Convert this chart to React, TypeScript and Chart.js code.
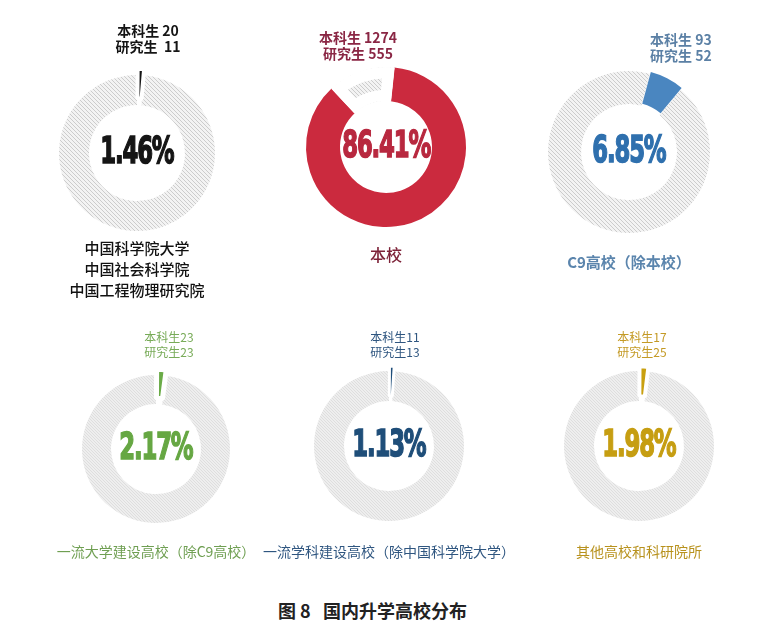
import { useEffect, useRef } from 'react';
import { Chart, registerables } from 'chart.js';

Chart.register(...registerables);

// shares of students going on to each destination (%)
const groupNames = [
  ['中国科学院大学', '中国社会科学院', '中国工程物理研究院'],
  ['本校'],
  ['C9高校（除本校）'],
  ['一流大学建设高校（除C9高校）'],
  ['一流学科建设高校（除中国科学院大学）'],
  ['其他高校和科研院所'],
];
const shares = [1.46, 86.41, 6.85, 2.17, 1.13, 1.98];
const undergrad = ['20', '1274', '93', '23', '11', '17'];
const postgrad = ['11', '555', '52', '23', '13', '25'];
const caption = '图 8   国内升学高校分布';

// layout / look per panel
const panels = [
  { cx: 137, cy: 153, r: 78, hole: 48, color: '#151515', text: '#151515', sub: '#151515', topY: 30, topX: 148, align: 'center', gap: ' ', gap2: '  ', botY: 247, botColor: '#111', botWeight: 500, botSize: 15, topWeight: 700, topSize: 14, offset: 13, border: 4, startDeg: 0, row: 0 },
  { cx: 386, cy: 147, r: 80, hole: 46, color: '#cb2a3e', text: '#b8283f', sub: '#8a2644', topY: 37, topX: 358, align: 'center', gap: ' ', gap2: ' ', botY: 254, botColor: '#7d2238', botWeight: 500, botSize: 16, topWeight: 700, topSize: 14, offset: 0, border: 0, startDeg: 6, row: 0 },
  { cx: 629, cy: 152, r: 81, hole: 48, color: '#4a86c0', text: '#2f70ae', sub: '#5b80a5', topY: 39, topX: 650, align: 'left', gap: ' ', gap2: ' ', botY: 261, botColor: '#5b85ad', botWeight: 700, botSize: 15, topWeight: 700, topSize: 14, offset: 5, border: 0, startDeg: 15, row: 0 },
  { cx: 156, cy: 449, r: 74, hole: 45, color: '#6aab47', text: '#66a743', sub: '#78ab58', topY: 337, topX: 169, align: 'center', gap: '', gap2: '', botY: 551, botColor: '#6f9f52', botWeight: 400, botSize: 14, topWeight: 400, topSize: 12, offset: 12, border: 5, startDeg: 0, row: 1 },
  { cx: 389, cy: 446, r: 75, hole: 45, color: '#1f4e7a', text: '#1f4e79', sub: '#2f5680', botY: 551, topY: 337, topX: 395, align: 'center', gap: '', gap2: '', botColor: '#2f5680', botWeight: 400, botSize: 14, topWeight: 400, topSize: 12, offset: 10, border: 3, startDeg: 0, row: 1 },
  { cx: 639, cy: 446, r: 75, hole: 45, color: '#c9a010', text: '#c69e12', sub: '#c49a25', botY: 551, topY: 337, topX: 642, align: 'center', gap: '', gap2: '', botColor: '#b8921e', botWeight: 400, botSize: 14, topWeight: 400, topSize: 12, offset: 10, border: 4, startDeg: 0, row: 1 },
];

function makeHatch(bg: string, line: string, size: number) {
  const c = document.createElement('canvas');
  c.width = size;
  c.height = size;
  const ctx = c.getContext('2d')!;
  ctx.fillStyle = bg;
  ctx.fillRect(0, 0, size, size);
  ctx.strokeStyle = line;
  ctx.lineWidth = 1;
  for (const x0 of [-size, 0, size]) {
    ctx.beginPath();
    ctx.moveTo(x0, 0);
    ctx.lineTo(x0 + size, size);
    ctx.stroke();
  }
  return ctx.createPattern(c, 'repeat')!;
}

function Donut({ idx }: { idx: number }) {
  const canvasRef = useRef<HTMLCanvasElement | null>(null);
  const chartInstance = useRef<Chart | null>(null);
  const p = panels[idx];

  useEffect(() => {
    if (!canvasRef.current) return;
    if (chartInstance.current) {
      chartInstance.current.destroy();
      chartInstance.current = null;
    }

    const v = shares[idx];
    const hatch = p.row === 0 ? makeHatch('#f3f3f3', '#cccccc', 4) : makeHatch('#eeeeee', '#dedede', 3);
    const isMain = idx === 1;

    // main school: colored share first, grey remainder shrunk by an inner white border
    const data = isMain ? [v, 100 - v] : [100 - v, v];
    const bg = isMain ? [p.color, hatch] : [hatch, p.color];
    const borderWidth = isMain ? [0, 11] : [0, p.border];
    const borderAlign = isMain ? ['center', 'inner'] : ['center', 'center'];
    const offset = isMain ? [0, 0] : [0, p.offset];
    const rotation = isMain ? p.startDeg : p.startDeg - (100 - v) * 3.6;

    chartInstance.current = new Chart(canvasRef.current, {
      type: 'doughnut',
      data: {
        labels: ['a', 'b'],
        datasets: [{
          data,
          backgroundColor: bg as any,
          borderWidth,
          borderColor: '#ffffff',
          borderAlign: borderAlign as any,
          offset,
        }]
      },
      options: {
        animation: false,
        responsive: false,
        events: [],
        radius: p.r,
        cutout: `${(p.hole / p.r) * 100}%`,
        rotation,
        layout: { padding: 0 },
        plugins: {
          legend: { display: false },
          tooltip: { enabled: false },
        }
      } as any
    });

    return () => {
      if (chartInstance.current) {
        chartInstance.current.destroy();
        chartInstance.current = null;
      }
    };
  }, [idx]);

  const cjk = '"Noto Sans CJK SC", "Noto Sans", sans-serif';
  const pctSize = 38;
  const lines = groupNames[idx];
  const topLines = [`本科生${p.gap}${undergrad[idx]}`, `研究生${p.gap2}${postgrad[idx]}`];

  return (
    <>
      <canvas
        ref={canvasRef}
        width={240}
        height={240}
        style={{ position: 'absolute', left: p.cx - 120, top: p.cy - 120, width: 240, height: 240 }}
      />
      <div style={{
        position: 'absolute', left: p.cx - 100, width: 200, top: p.cy - 4 - pctSize * 0.48,
        textAlign: 'center', lineHeight: 1, fontSize: pctSize, fontWeight: 700,
        fontFamily: '"DejaVu Sans", sans-serif', color: p.text, letterSpacing: -2,
        WebkitTextStroke: `1.6px ${p.text}`,
      }}>
        <span style={{ display: 'inline-block', transform: 'scaleX(0.6)', transformOrigin: 'center' }}>
          {shares[idx].toFixed(2)}%
        </span>
      </div>
      {topLines.map((t, i) => (
        <div key={'t' + i} style={{
          position: 'absolute',
          left: p.align === 'left' ? p.topX : p.topX - 100,
          width: 200,
          top: p.topY + i * (p.row === 0 ? 16 : 15) - p.topSize * 0.5,
          textAlign: p.align as any, whiteSpace: 'pre', lineHeight: 1,
          fontSize: p.topSize, fontWeight: p.topWeight, fontFamily: cjk, color: p.sub,
        }}>{t}</div>
      ))}
      {lines.map((t, i) => (
        <div key={'b' + i} style={{
          position: 'absolute', left: p.cx - 150, width: 300,
          top: p.botY + i * 21 - p.botSize * 0.5,
          textAlign: 'center', whiteSpace: 'pre', lineHeight: 1,
          fontSize: p.botSize, fontWeight: p.botWeight, fontFamily: cjk, color: p.botColor,
        }}>{t}</div>
      ))}
    </>
  );
}

export default function App() {
  return (
    <div style={{ position: 'absolute', left: 0, top: 0, width: 760, height: 630, background: '#ffffff', overflow: 'hidden' }}>
      {shares.map((_, i) => <Donut key={i} idx={i} />)}
      <div style={{
        position: 'absolute', left: 0, width: 745, top: 610 - 9, textAlign: 'center',
        lineHeight: 1, fontSize: 18, fontWeight: 700, whiteSpace: 'pre',
        fontFamily: '"Noto Sans CJK SC", sans-serif', color: '#222',
      }}>{caption}</div>
    </div>
  );
}
